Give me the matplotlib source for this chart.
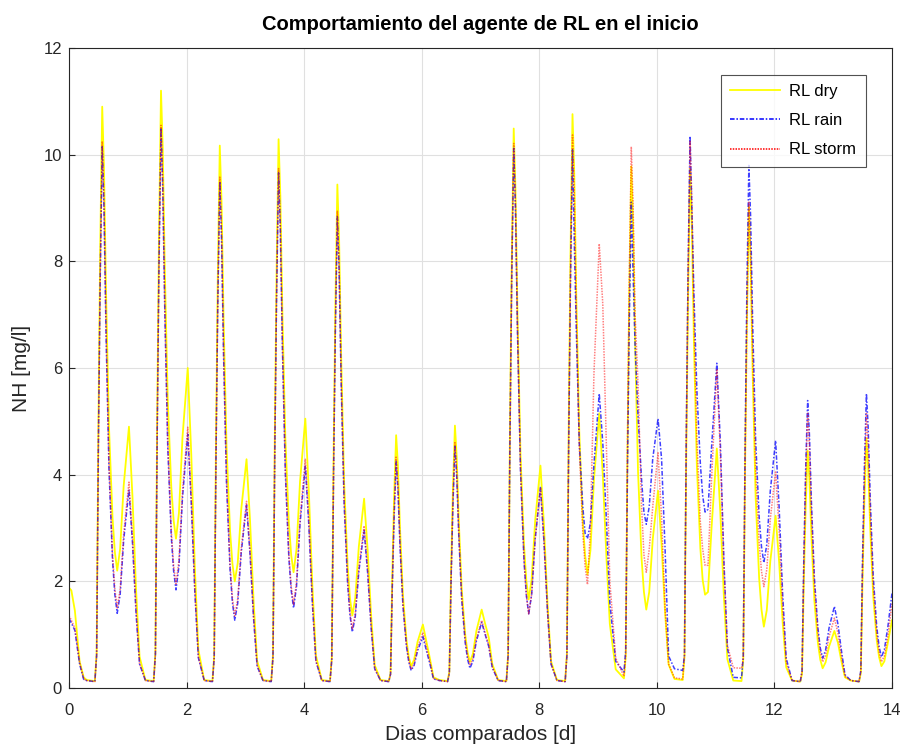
import matplotlib
matplotlib.use("Agg")
import matplotlib.pyplot as plt
import numpy as np

plt.rcParams['font.family'] = ['Liberation Sans', 'DejaVu Sans']

# ---------------- data ----------------
# sample times: an initial segment, then 18 samples per day (offsets within the day)
t_start = [0.0, 0.04, 0.10, 0.18, 0.25]
day_offsets = [0.30, 0.44, 0.47, 0.50, 0.53, 0.565, 0.595, 0.63, 0.68, 0.74,
               0.78, 0.82, 0.87, 0.93, 1.02, 1.08, 1.14, 1.20]
last_offsets = [0.30, 0.44, 0.47, 0.50, 0.53, 0.565, 0.595, 0.63, 0.68, 0.74,
                0.78, 0.82, 0.87, 0.93, 1.00]
n_full_days = 13

dry_start = [1.88, 1.83, 1.45, 0.50, 0.20]
rain_start = [1.30, 1.22, 1.08, 0.45, 0.16]
storm_start = [1.36, 1.27, 1.12, 0.48, 0.17]

dry_days = [
    [0.15, 0.13, 0.65, 4.90, 8.18, 10.90, 9.77, 7.42, 4.90, 3.20, 2.55, 2.20, 2.61, 3.79, 4.90, 3.58, 1.86, 0.59],
    [0.15, 0.13, 0.67, 5.04, 8.40, 11.20, 10.11, 7.84, 5.40, 3.77, 3.14, 2.80, 3.28, 4.69, 6.00, 4.38, 2.28, 0.72],
    [0.15, 0.13, 0.61, 4.58, 7.63, 10.17, 9.11, 6.90, 4.53, 2.94, 2.33, 2.00, 2.34, 3.35, 4.29, 3.13, 1.63, 0.51],
    [0.15, 0.13, 0.62, 4.63, 7.72, 10.29, 9.23, 7.04, 4.69, 3.10, 2.49, 2.17, 2.60, 3.87, 5.05, 3.69, 1.92, 0.61],
    [0.15, 0.13, 0.57, 4.25, 7.08, 9.44, 8.39, 6.21, 3.86, 2.29, 1.68, 1.36, 1.69, 2.65, 3.55, 2.59, 1.35, 0.43],
    [0.15, 0.13, 0.28, 2.13, 3.56, 4.74, 4.18, 3.01, 1.75, 0.91, 0.58, 0.41, 0.53, 0.87, 1.19, 0.87, 0.55, 0.20],
    [0.15, 0.13, 0.30, 2.21, 3.69, 4.92, 4.34, 3.15, 1.86, 1.00, 0.67, 0.49, 0.64, 1.07, 1.47, 1.20, 0.95, 0.45],
    [0.15, 0.13, 0.63, 4.72, 7.87, 10.49, 9.34, 6.96, 4.40, 2.68, 2.01, 1.66, 2.04, 3.14, 4.17, 3.04, 1.58, 0.50],
    [0.15, 0.13, 0.65, 4.84, 8.07, 10.76, 9.64, 7.31, 4.81, 3.12, 2.48, 2.13, 2.58, 3.91, 5.15, 4.00, 2.50, 1.20],
    [0.35, 0.18, 0.59, 4.40, 7.34, 9.78, 8.70, 6.46, 4.05, 2.43, 1.80, 1.47, 1.80, 2.79, 3.70, 2.70, 1.41, 0.44],
    [0.17, 0.15, 0.58, 4.38, 7.30, 9.73, 8.69, 6.52, 4.19, 2.62, 2.02, 1.75, 1.80, 3.00, 4.49, 3.28, 1.71, 0.54],
    [0.14, 0.13, 0.54, 4.06, 6.77, 9.03, 8.01, 5.88, 3.59, 2.06, 1.47, 1.15, 1.46, 2.38, 3.23, 2.36, 1.23, 0.39],
    [0.14, 0.12, 0.27, 2.00, 3.34, 4.45, 3.92, 2.82, 1.63, 0.84, 0.53, 0.37, 0.48, 0.78, 1.07, 0.85, 0.50, 0.20],
]
dry_last = [0.14, 0.12, 0.28, 2.11, 3.51, 4.68, 4.12, 2.97, 1.73, 0.90, 0.58, 0.41, 0.50, 0.85, 1.27]

rain_days = [
    [0.14, 0.12, 0.61, 4.57, 7.61, 10.15, 9.01, 6.65, 4.11, 2.41, 1.75, 1.40, 1.75, 2.77, 3.72, 2.72, 1.41, 0.45],
    [0.14, 0.12, 0.63, 4.73, 7.88, 10.50, 9.37, 7.04, 4.52, 2.84, 2.19, 1.84, 2.28, 3.56, 4.76, 3.47, 1.81, 0.57],
    [0.14, 0.12, 0.57, 4.28, 7.13, 9.50, 8.43, 6.21, 3.82, 2.22, 1.60, 1.27, 1.59, 2.54, 3.43, 2.50, 1.30, 0.41],
    [0.14, 0.12, 0.58, 4.35, 7.25, 9.66, 8.60, 6.40, 4.03, 2.44, 1.83, 1.50, 1.90, 3.08, 4.17, 3.04, 1.58, 0.50],
    [0.14, 0.12, 0.53, 3.98, 6.63, 8.84, 7.83, 5.72, 3.46, 1.95, 1.36, 1.05, 1.34, 2.18, 2.96, 2.16, 1.12, 0.36],
    [0.14, 0.12, 0.26, 1.91, 3.19, 4.25, 3.74, 2.68, 1.55, 0.78, 0.49, 0.33, 0.42, 0.70, 0.96, 0.70, 0.45, 0.17],
    [0.14, 0.12, 0.27, 2.04, 3.40, 4.53, 3.99, 2.87, 1.66, 0.85, 0.54, 0.37, 0.50, 0.88, 1.23, 1.00, 0.78, 0.38],
    [0.14, 0.12, 0.61, 4.55, 7.59, 10.12, 8.99, 6.63, 4.10, 2.39, 1.74, 1.39, 1.75, 2.79, 3.76, 2.74, 1.43, 0.45],
    [0.14, 0.12, 0.61, 4.54, 7.57, 10.09, 8.40, 6.70, 4.60, 3.40, 2.90, 2.80, 3.10, 4.20, 5.52, 4.60, 3.20, 1.60],
    [0.50, 0.30, 0.70, 4.10, 6.80, 9.11, 7.80, 6.40, 5.10, 3.90, 3.30, 3.07, 3.40, 4.30, 5.05, 4.30, 2.60, 0.60],
    [0.36, 0.33, 0.62, 4.66, 7.76, 10.35, 9.00, 7.40, 5.60, 4.20, 3.60, 3.30, 3.35, 4.50, 6.09, 4.60, 2.40, 0.75],
    [0.20, 0.19, 0.59, 4.41, 7.35, 9.80, 8.83, 6.82, 4.66, 3.21, 2.65, 2.35, 2.69, 3.70, 4.64, 3.39, 1.76, 0.56],
    [0.14, 0.12, 0.32, 2.43, 4.04, 5.39, 4.76, 3.46, 2.06, 1.12, 0.75, 0.56, 0.71, 1.13, 1.53, 1.20, 0.70, 0.25],
]
rain_last = [0.14, 0.12, 0.33, 2.48, 4.14, 5.52, 4.88, 3.54, 2.11, 1.15, 0.78, 0.58, 0.72, 1.15, 1.78]

storm_days = [
    [0.14, 0.12, 0.62, 4.61, 7.69, 10.25, 9.11, 6.75, 4.21, 2.51, 1.85, 1.50, 1.85, 2.89, 3.86, 2.82, 1.47, 0.46],
    [0.14, 0.12, 0.63, 4.75, 7.91, 10.55, 9.43, 7.11, 4.62, 2.94, 2.29, 1.95, 2.39, 3.68, 4.89, 3.57, 1.86, 0.59],
    [0.14, 0.12, 0.57, 4.31, 7.19, 9.58, 8.51, 6.29, 3.90, 2.30, 1.68, 1.35, 1.67, 2.62, 3.50, 2.56, 1.33, 0.42],
    [0.14, 0.12, 0.58, 4.38, 7.31, 9.74, 8.68, 6.47, 4.10, 2.51, 1.90, 1.57, 1.98, 3.17, 4.29, 3.13, 1.63, 0.51],
    [0.14, 0.12, 0.54, 4.02, 6.71, 8.94, 7.92, 5.81, 3.54, 2.01, 1.42, 1.11, 1.40, 2.25, 3.04, 2.22, 1.16, 0.36],
    [0.14, 0.12, 0.26, 1.95, 3.25, 4.33, 3.81, 2.74, 1.58, 0.81, 0.51, 0.35, 0.45, 0.76, 1.04, 0.76, 0.49, 0.18],
    [0.14, 0.12, 0.28, 2.07, 3.45, 4.60, 4.06, 2.93, 1.72, 0.90, 0.59, 0.42, 0.55, 0.92, 1.27, 1.03, 0.80, 0.40],
    [0.14, 0.12, 0.61, 4.59, 7.66, 10.21, 9.06, 6.68, 4.12, 2.40, 1.74, 1.39, 1.75, 2.79, 3.76, 2.74, 1.43, 0.45],
    [0.14, 0.12, 0.62, 4.67, 7.78, 10.37, 9.27, 7.00, 4.55, 2.91, 2.28, 1.94, 3.00, 5.90, 8.33, 7.20, 4.60, 2.00],
    [0.56, 0.22, 0.61, 4.57, 7.61, 10.15, 9.10, 7.00, 5.70, 3.40, 2.50, 2.17, 2.60, 3.40, 4.41, 3.20, 1.50, 0.45],
    [0.19, 0.17, 0.62, 4.61, 7.69, 10.25, 9.20, 7.00, 4.70, 3.10, 2.60, 2.30, 2.30, 3.90, 5.98, 4.40, 2.30, 0.80],
    [0.38, 0.37, 0.55, 4.10, 6.83, 9.11, 8.17, 6.23, 4.14, 2.73, 2.19, 1.90, 2.22, 3.17, 4.05, 2.96, 1.54, 0.49],
    [0.14, 0.12, 0.31, 2.32, 3.86, 5.15, 4.54, 3.29, 1.93, 1.03, 0.68, 0.49, 0.61, 0.97, 1.31, 1.03, 0.60, 0.22],
]
storm_last = [0.14, 0.12, 0.31, 2.32, 3.86, 5.15, 4.54, 3.29, 1.93, 1.03, 0.68, 0.49, 0.60, 0.98, 1.58]

labels = ["RL dry", "RL rain", "RL storm"]
title = "Comportamiento del agente de RL en el inicio"
xlabel = "Dias comparados [d]"
ylabel = "NH [mg/l]"
xticks = [0, 2, 4, 6, 8, 10, 12, 14]
yticks = [0, 2, 4, 6, 8, 10, 12]

# ---------------- assemble series ----------------
t = list(t_start)
for d in range(n_full_days):
    t += [d + o for o in day_offsets]
t += [n_full_days + o for o in last_offsets]
t = np.array(t)


def build(start, days, last):
    out = list(start)
    for row in days:
        out += row
    out += last
    return np.array(out)


dry = build(dry_start, dry_days, dry_last)
rain = build(rain_start, rain_days, rain_last)
storm = build(storm_start, storm_days, storm_last)

# ---------------- plot ----------------
fig = plt.figure(figsize=(9.06, 7.51), dpi=100)
ax = fig.add_axes([69/906, 63/751, (892-69)/906, (688-48)/751])

ax.plot(t, dry, color='#ffff00', lw=1.3, ls='-', label=labels[0])
ax.plot(t, rain, color='#0000ff', lw=1.1, ls=(0, (3, 1.2, 1, 1.2)), alpha=0.75, label=labels[1])
ax.plot(t, storm, color='#ff0000', lw=1.1, ls=(0, (1, 0.8)), alpha=0.5, label=labels[2])

ax.set_xlim(0, 14)
ax.set_ylim(0, 12)
ax.set_xticks(xticks)
ax.set_yticks(yticks)
ax.grid(True, color='#e0e0e0', lw=0.8)
ax.set_axisbelow(True)
ax.tick_params(direction='in', length=4, width=0.8, colors='#262626', labelsize=12)
ax.tick_params(axis='x', pad=10.5)
ax.tick_params(axis='y', pad=5)
for s in ax.spines.values():
    s.set_color('#262626')
    s.set_linewidth(0.8)

ax.set_title(title, fontsize=14.5, fontweight='bold', pad=13)
ax.set_xlabel(xlabel, fontsize=15, color='#262626', labelpad=5)
ax.set_ylabel(ylabel, fontsize=15, color='#262626', labelpad=9)

leg = ax.legend(loc='upper right', bbox_to_anchor=(0.968, 0.958), borderaxespad=0,
                fontsize=12, frameon=True, fancybox=False, edgecolor='#262626',
                handlelength=3.0, labelspacing=0.85, borderpad=0.55, handletextpad=0.55)
leg.get_frame().set_linewidth(0.8)
for h in leg.get_lines():
    h.set_alpha(1.0)

fig.savefig("out.png", dpi=100)
